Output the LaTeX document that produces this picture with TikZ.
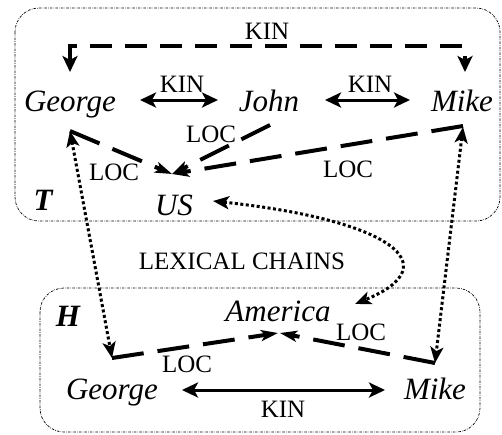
\documentclass[tikz,border=0pt]{standalone}
\usepackage{fontspec}
\setmainfont{Liberation Serif}
\usetikzlibrary{arrows.meta}
\tikzset{
  tipA/.tip={Stealth[length=16pt,width=15pt,inset=4pt]},
  tipL/.tip={Stealth[length=17pt,width=11pt,inset=4pt]},
  tipD/.tip={Stealth[length=16pt,width=13pt,inset=4pt]},
}
\begin{document}
\begin{tikzpicture}[x=1pt,y=-1pt,
  word/.style={anchor=base, inner sep=0pt, font=\fontsize{31}{36}\selectfont\itshape},
  lbl/.style={anchor=base, inner sep=0pt, font=\fontsize{25}{30}\selectfont},
  tagl/.style={anchor=base, inner sep=0pt, font=\fontsize{31}{36}\selectfont\bfseries\itshape},
  boxframe/.style={draw, line width=0.7pt, rounded corners=24pt, dash pattern=on 2.5pt off 1.2pt on 0.6pt off 1.2pt},
  kinline/.style={line width=3pt, {tipA}-{tipA}},
  kindash/.style={line width=4pt, dash pattern=on 22pt off 13pt, {tipA}-{tipA}},
  locline/.style={line width=4pt, dash pattern=on 32pt off 14pt, -{tipL}},
  dotline/.style={line width=3pt, dash pattern=on 3pt off 2.5pt, {tipD}-{tipD}},
]
\useasboundingbox (0,0) rectangle (502,434);

% frames
\draw[boxframe] (15,8) rectangle (500,221);
\draw[boxframe] (40,288) rectangle (480,432);

% text nodes
\node[word] (georgeT) at (70,111) {George};
\node[word] (john) at (269,111) {John};
\node[word] (mikeT) at (462,111) {Mike};
\node[word] (us) at (174,215) {US};
\node[tagl] (tT) at (43,210) {T};
\node[word] (america) at (278,321) {America};
\node[word] (georgeH) at (112,399) {George};
\node[word] (mikeH) at (435,399) {Mike};
\node[tagl] (hH) at (68,326) {H};
\node[lbl] (lex) at (242,269) {LEXICAL CHAINS};

% connector end points
\coordinate (kg) at (70,72);
\coordinate (km) at (465,72);
\coordinate (k1a) at (140,100);
\coordinate (k1b) at (218,100);
\coordinate (k2a) at (325,100);
\coordinate (k2b) at (410,100);
\coordinate (usTip) at (172,174);
\coordinate (gLoc) at (70,131);
\coordinate (jLoc) at (270,125);
\coordinate (mLoc) at (463,126);
\coordinate (gDotT) at (70,131);
\coordinate (gDotH) at (112,358);
\coordinate (mDotT) at (463,127);
\coordinate (mDotH) at (435,363);
\coordinate (amL) at (278,333);
\coordinate (amR) at (280,333);
\coordinate (usR) at (213,201);
\coordinate (amDot) at (355,304);
\coordinate (kh1) at (182,390);
\coordinate (kh2) at (385,390);

% KIN relations (T)
\draw[kindash] (kg) -- ++(0,-26) -| (km);
\node[lbl] (kinTop) at (267,39) {KIN};
\draw[kinline] (k1a) -- (k1b);
\node[lbl] (kin1) at (182,92) {KIN};
\draw[kinline] (k2a) -- (k2b);
\node[lbl] (kin2) at (370,92) {KIN};

% LOC relations (T)
\draw[locline] (gLoc) -- (usTip);
\draw[locline] (jLoc) -- (usTip);
\draw[locline] (mLoc) -- (usTip);
\node[lbl] (loc1) at (114,180) {LOC};
\node[lbl] (loc2) at (211,142) {LOC};
\node[lbl] (loc3) at (348,177) {LOC};

% lexical chains
\draw[dotline] (gDotT) -- (gDotH);
\draw[dotline] (mDotT) -- (mDotH);
\draw[dotline] (usR) .. controls (390,220) and (450,265) .. (amDot);

% H relations
\draw[locline] (gDotH) -- (amL);
\draw[locline] (mDotH) -- (amR);
\node[lbl] (loc4) at (187,372) {LOC};
\node[lbl] (loc5) at (361,340) {LOC};
\draw[kinline] (kh1) -- (kh2);
\node[lbl] (kinH) at (283,417) {KIN};
\end{tikzpicture}
\end{document}
